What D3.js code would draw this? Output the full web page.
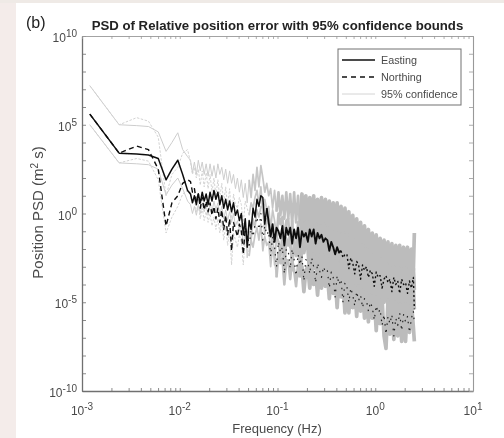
<!DOCTYPE html>
<html>
<head>
<meta charset="utf-8">
<script src="https://cdn.jsdelivr.net/npm/d3@7"></script>
<style>
  html, body { margin: 0; padding: 0; background: #fff; }
  svg { display: block; }
  text { font-family: "Liberation Sans", Arial, sans-serif; }
</style>
</head>
<body>
<div id="chart"></div>
<script>
// everything below is log10 of the value
const freqExp = [
  -2.92,-2.62,-2.44,-2.32,-2.22,-2.14,-2.08,-2.02,-1.97,-1.92,
  -1.89,-1.87,-1.85,-1.83,-1.81,-1.79,-1.77,-1.75,-1.73,-1.71,
  -1.69,-1.67,-1.65,-1.63,-1.61,-1.59,-1.57,-1.55,-1.53,-1.51,
  -1.49,-1.47,-1.45,-1.43,-1.41,-1.39,-1.37,-1.35,-1.33,-1.31,
  -1.29,-1.27,-1.25,-1.23,-1.21,-1.19,-1.17,-1.15,-1.13,-1.11,
  -1.09,-1.07,-1.05,-1.03,-1.01,-0.99,-0.97,-0.95,-0.93,-0.91,
  -0.89,-0.87,-0.85,-0.83,-0.81,-0.79,-0.77,-0.75,-0.73,-0.71,
  -0.69,-0.67,-0.65,-0.63,-0.61,-0.59,-0.57,-0.55,-0.53,-0.51,
  -0.49,-0.47,-0.45,-0.43,-0.41,-0.39,-0.37,-0.35,-0.33,-0.31,
  -0.29,-0.27,-0.25,-0.23,-0.21,-0.19,-0.17,-0.15,-0.13,-0.11,
  -0.09,-0.07,-0.05,-0.03,-0.01,0.01,0.03,0.05,0.07,0.09,
  0.11,0.13,0.15,0.17,0.19,0.21,0.23,0.25,0.27,0.29,
  0.31,0.33,0.35,0.37,0.39,0.40
];

const easting = [
  5.6,3.4,3.35,3.3,3.1,1.9,2.5,3.0,2.2,1.3,
  1.1,0.6,1.0,0.5,1.1,0.6,1.2,0.7,1.1,0.5,
  1.2,0.7,1.3,0.8,1.2,0.5,1.0,0.3,0.8,0.2,
  0.7,0.1,0.6,-0.1,0.2,-0.4,0.0,-1.2,-0.3,-1.9,
  -0.4,-0.9,0.3,-0.2,0.8,0.4,1.0,0.9,-0.6,0.3,
  -0.5,-1.3,-0.6,-1.6,-0.8,-1.0,-1.4,-0.7,-1.8,-0.8,
  -1.2,-0.8,-1.7,-0.9,-1.4,-0.8,-1.9,-1.0,-1.3,-1.1,
  -1.6,-0.9,-1.3,-0.9,-1.7,-1.1,-1.4,-1.2,-1.6,-1.4,
  -1.5,-2.1,-1.6,-1.9,-2.3,-1.9,-2.2,-2.1,-2.5,-2.3,
  -2.3,-3.1,-2.5,-2.8,-3.4,-2.7,-2.9,-3.7,-2.9,-3.2,
  -3.0,-3.6,-3.2,-3.4,-4.1,-3.3,-3.6,-3.5,-4.2,-3.7,
  -3.5,-3.9,-3.7,-4.4,-3.6,-4.0,-3.8,-4.5,-3.7,-4.0,
  -3.9,-4.5,-3.8,-4.2,-3.6,-5.4
];

const northing = [
  5.6,3.4,3.8,3.6,2.5,-0.7,0.6,1.0,1.7,1.9,
  1.8,1.2,1.4,0.7,1.1,0.3,0.9,0.2,0.7,0.1,
  0.6,-0.1,0.4,-0.3,0.3,-0.5,0.2,-0.9,-0.1,-1.2,
  -0.3,-2.1,-0.5,-0.9,-1.3,-0.6,-1.0,-2.3,-0.8,-1.2,
  -1.8,-0.9,-1.3,-0.6,-0.2,-0.9,0.0,-1.5,-0.7,-1.2,
  -1.0,-2.4,-1.3,-1.9,-3.0,-1.6,-2.2,-1.9,-3.4,-2.0,
  -2.1,-3.1,-2.0,-2.6,-3.5,-2.3,-2.9,-2.4,-3.8,-2.6,
  -2.7,-3.4,-2.5,-3.0,-3.9,-2.8,-3.2,-3.6,-3.0,-3.3,
  -3.2,-4.2,-3.3,-3.6,-4.7,-3.5,-4.0,-3.7,-5.0,-3.9,
  -4.1,-5.0,-4.2,-4.6,-5.2,-4.4,-4.9,-4.6,-5.3,-4.8,
  -4.9,-5.5,-5.0,-5.3,-6.0,-5.2,-5.6,-5.4,-6.3,-5.7,
  -6.8,-5.8,-6.2,-5.7,-6.9,-5.9,-6.3,-5.6,-6.6,-5.7,
  -6.1,-5.8,-6.7,-5.9,-5.5,-6.2
];

const eastingUpper = [
  7.2,5.0,4.95,4.9,4.6,3.5,4.0,4.55,3.6,3.2,
  3.0,2.3,2.9,2.2,3.0,2.4,2.9,2.2,2.8,2.1,
  2.8,2.1,2.7,2.0,2.8,2.2,2.6,1.9,2.5,1.7,
  2.4,1.7,2.2,1.4,2.0,1.2,1.9,0.9,1.7,0.6,
  1.9,0.9,2.2,1.3,2.6,1.5,2.7,2.0,1.2,1.7,
  1.0,1.4,0.3,1.3,0.1,1.2,-0.1,1.0,-0.3,1.2,
  -0.3,1.1,-0.6,1.2,-0.5,1.0,-0.7,1.1,-0.6,1.0,
  -0.9,0.9,-0.8,1.0,-1.0,0.8,-0.9,0.9,-1.0,0.8,
  -1.0,0.7,-1.1,0.6,-1.2,0.6,-1.3,0.4,-1.4,0.3,
  -1.4,0.1,-1.6,-0.1,-1.7,-0.3,-1.9,-0.5,-2.0,-0.7,
  -2.2,-0.9,-2.3,-1.1,-2.5,-1.2,-2.6,-1.4,-2.8,-1.5,
  -3.0,-1.6,-3.1,-1.7,-3.2,-1.8,-3.2,-1.8,-3.3,-1.9,
  -3.3,-1.9,-3.4,-2.0,-3.2,-1.1
];

const northingUpper = [
  7.2,5.0,5.4,5.2,4.3,1.0,2.2,2.6,3.4,3.6,
  2.9,2.2,2.6,2.0,2.5,1.6,2.4,1.5,2.3,1.4,
  2.2,1.2,2.0,1.0,1.9,0.9,1.7,0.6,1.5,0.4,
  1.4,-0.4,1.1,0.5,0.3,0.9,0.5,-0.6,0.7,0.3,
  -0.1,0.6,0.3,0.9,1.3,0.5,1.5,0.0,0.8,0.2,
  0.4,-0.9,0.2,-0.4,-1.4,0.0,-0.6,-0.2,-1.8,-0.4,
  -0.3,-1.9,-0.4,-1.8,-2.0,-0.5,-1.9,-0.4,-2.2,-0.5,
  -0.5,-2.2,-0.6,-2.1,-0.6,-2.4,-0.7,-2.2,-0.6,-2.3,
  -0.8,-2.4,-0.9,-2.5,-1.0,-2.6,-1.1,-2.7,-1.1,-2.8,
  -1.2,-2.9,-1.4,-3.0,-1.5,-3.1,-1.7,-3.2,-1.8,-3.3,
  -2.0,-3.4,-2.1,-3.5,-2.3,-3.6,-2.4,-3.7,-2.6,-3.8,
  -2.8,-4.0,-2.9,-4.1,-3.0,-4.2,-3.0,-4.2,-3.1,-4.3,
  -3.1,-4.3,-3.2,-4.4,-3.1,-4.3
];

const eastingLower = [
  5.0,2.85,2.8,2.75,2.5,1.05,1.6,2.0,1.4,0.7,
  0.5,0.0,0.4,-0.1,0.5,0.0,0.6,0.1,0.5,-0.1,
  0.6,0.1,0.7,0.2,0.6,-0.1,0.4,-0.3,0.2,-0.4,
  0.1,-0.5,0.0,-0.7,-0.4,-1.0,-0.6,-1.8,-0.9,-2.5,
  -1.0,-1.5,-0.3,-0.8,0.2,-0.2,0.4,0.3,-1.2,-0.3,
  -0.7,-2.2,-1.0,-2.9,-1.3,-1.6,-2.4,-1.2,-3.2,-1.4,
  -1.8,-1.3,-3.2,-1.5,-2.4,-1.4,-3.6,-1.6,-2.1,-1.7,
  -1.9,-3.4,-1.8,-3.1,-2.0,-3.6,-1.9,-3.2,-2.0,-3.4,
  -2.2,-3.7,-2.3,-3.8,-2.4,-3.8,-2.5,-3.9,-2.6,-4.0,
  -2.6,-4.1,-2.7,-4.2,-2.8,-4.3,-2.9,-4.4,-3.0,-4.5,
  -3.2,-4.6,-3.3,-4.7,-3.4,-4.8,-3.5,-4.9,-3.6,-5.0,
  -3.8,-5.1,-3.9,-5.2,-4.0,-5.3,-4.0,-5.3,-4.1,-5.3,
  -4.1,-5.3,-4.1,-5.4,-4.2,-5.4
];

const northingLower = [
  5.0,2.85,3.1,2.95,1.9,-1.1,-0.2,0.4,1.1,1.3,
  1.2,0.6,0.8,0.1,0.5,-0.3,0.3,-0.4,0.1,-0.5,
  0.0,-0.7,-0.2,-0.9,-0.3,-1.1,-0.4,-1.5,-0.7,-1.8,
  -0.9,-2.9,-1.1,-1.5,-1.9,-1.2,-1.6,-2.9,-1.4,-1.8,
  -2.4,-1.5,-1.9,-1.2,-0.8,-1.5,-0.6,-2.1,-1.3,-1.8,
  -1.6,-3.0,-1.9,-2.5,-3.6,-2.2,-2.8,-2.5,-4.0,-2.6,
  -2.7,-3.7,-2.6,-3.2,-4.1,-2.9,-3.5,-3.0,-4.4,-3.2,
  -3.0,-4.2,-3.1,-4.0,-3.3,-4.6,-3.2,-4.2,-3.3,-4.1,
  -3.4,-4.8,-3.5,-4.5,-3.6,-5.3,-3.6,-4.7,-3.8,-5.6,
  -3.9,-5.6,-4.0,-5.3,-4.1,-5.8,-4.1,-5.5,-4.3,-5.9,
  -4.5,-6.1,-4.6,-5.9,-4.7,-6.6,-4.7,-6.2,-4.8,-6.9,
  -7.6,-4.9,-6.8,-5.0,-7.1,-5.0,-6.9,-5.1,-7.2,-5.1,
  -7.2,-5.1,-6.7,-5.0,-6.4,-7.2
];

const xTickExps = [-3, -2, -1, 0, 1];
const yTickExps = [-10, -5, 0, 5, 10];
const yMinorExps = [-9,-8,-7,-6,-4,-3,-2,-1,1,2,3,4,6,7,8,9];
const legendLabels = ['Easting', 'Northing', '95% confidence'];

const width = 504, height = 438;
const margin = { top: 36, right: 31, bottom: 47, left: 82 };
const graphWidth = width - margin.left - margin.right;
const graphHeight = height - margin.top - margin.bottom;
const axisColor = '#6f6f6f', textColor = '#4a4a4a';

const svg = d3.select('#chart').append('svg')
  .attr('width', width)
  .attr('height', height);

svg.append('defs').append('filter').attr('id', 'soft')
  .append('feGaussianBlur').attr('stdDeviation', 0.35);

// page background strips of the scanned figure
svg.append('rect').attr('width', 16).attr('height', height).attr('fill', '#f4ecea');
svg.append('rect').attr('width', width).attr('height', 3).attr('fill', '#efeae6');

const graph = svg.append('g')
  .attr('transform', `translate(${margin.left}, ${margin.top})`)
  .attr('filter', 'url(#soft)');

const x = d3.scaleLog().domain([1e-3, 10]).range([0, graphWidth]);
const y = d3.scaleLog().domain([1e-10, 1e10]).range([graphHeight, 0]);

// draw one stretch of a series, the noisy end needs a heavier stroke to close up
const drawSeries = (values, from, to, color, w, dash) => {
  const line = d3.line()
    .x(i => x(10 ** freqExp[i]))
    .y(i => y(10 ** values[i]));
  graph.append('path')
    .attr('d', line(d3.range(from, to)))
    .attr('fill', 'none')
    .attr('stroke', color)
    .attr('stroke-width', w)
    .attr('stroke-dasharray', dash)
    .attr('stroke-linejoin', 'round');
};

const thinEnd = 41, midEnd = 55, wideEnd = 67, lastPoint = freqExp.length;

[eastingUpper, eastingLower].forEach(values => {
  drawSeries(values, 0, thinEnd, '#cdcdcd', 1, null);
  drawSeries(values, thinEnd - 1, midEnd, '#c6c6c6', 1.7, null);
  drawSeries(values, midEnd - 1, wideEnd, '#c0c0c0', 2.6, null);
  drawSeries(values, wideEnd - 1, lastPoint, '#bcbcbc', 3.7, null);
});
[northingUpper, northingLower].forEach(values => {
  drawSeries(values, 0, thinEnd, '#d2d2d2', 1, '2.5 1.5');
  drawSeries(values, thinEnd - 1, midEnd, '#c6c6c6', 1.7, null);
  drawSeries(values, midEnd - 1, wideEnd, '#c0c0c0', 2.6, null);
  drawSeries(values, wideEnd - 1, lastPoint, '#bcbcbc', 3.7, null);
});

// black lines sit over the grey but break up into speckle at the high end
const northingSplit = 41, eastingThick = 50, eastingSplit = 88;
drawSeries(northing, 0, northingSplit, '#111', 1.4, '5 3.5');
drawSeries(northing, northingSplit - 1, lastPoint, '#222', 1.2, '1.5 5');
drawSeries(easting, 0, eastingThick, '#111', 1.5, null);
drawSeries(easting, eastingThick - 1, eastingSplit, '#111', 1.9, null);
drawSeries(easting, eastingSplit - 1, lastPoint, '#111', 1.4, '2 2.5');

// axes: ticks point inward on all four sides
const xMinor = x.ticks();
const xBottom = d3.axisBottom(x).tickValues(xMinor).tickFormat('')
  .tickSizeOuter(0).tickSizeInner(-3);
const xTop = d3.axisTop(x).tickValues(xMinor).tickFormat('')
  .tickSizeOuter(0).tickSizeInner(-3);
const yValues = yTickExps.concat(yMinorExps).map(d => 10 ** d);
const yLeft = d3.axisLeft(y).tickValues(yValues).tickFormat('')
  .tickSizeOuter(0).tickSizeInner(-4);
const yRight = d3.axisRight(y).tickValues(yValues).tickFormat('')
  .tickSizeOuter(0).tickSizeInner(-4);

const styleAxis = (g, color, w) => {
  g.selectAll('path').attr('stroke', color).attr('stroke-width', w);
  g.selectAll('line').attr('stroke', color).attr('stroke-width', 0.8);
};

styleAxis(graph.append('g').attr('transform', `translate(0, ${graphHeight})`).call(xBottom), axisColor, 1.3);
styleAxis(graph.append('g').call(yLeft), axisColor, 1.3);
styleAxis(graph.append('g').call(xTop), '#999', 0.9);
styleAxis(graph.append('g').attr('transform', `translate(${graphWidth}, 0)`).call(yRight), '#999', 1.1);

// 10^n labels
const powerLabel = (sel, exp) => {
  sel.attr('fill', textColor).attr('font-size', 12);
  sel.append('tspan').text('10');
  sel.append('tspan').attr('dy', -5).attr('font-size', 10).text(exp);
};

xTickExps.forEach(exp => {
  graph.append('text')
    .attr('x', x(10 ** exp))
    .attr('y', graphHeight + 24)
    .attr('text-anchor', 'middle')
    .call(powerLabel, exp);
});

yTickExps.forEach(exp => {
  graph.append('text')
    .attr('x', -5)
    .attr('y', y(10 ** exp) + 6)
    .attr('text-anchor', 'end')
    .call(powerLabel, exp);
});

// titles
graph.append('text')
  .attr('x', 195.5).attr('y', -6)
  .attr('text-anchor', 'middle')
  .attr('font-size', 13.2).attr('font-weight', 'bold').attr('fill', '#222')
  .text('PSD of Relative position error with 95% confidence bounds');

graph.append('text')
  .attr('x', 195).attr('y', graphHeight + 42)
  .attr('text-anchor', 'middle')
  .attr('font-size', 13).attr('fill', textColor)
  .text('Frequency (Hz)');

const yLabel = graph.append('text')
  .attr('transform', `translate(-39, ${graphHeight / 2 - 1}) rotate(-90)`)
  .attr('text-anchor', 'middle')
  .attr('font-size', 15).attr('fill', textColor);
yLabel.append('tspan').text('Position PSD (m');
yLabel.append('tspan').attr('dy', -5).attr('font-size', 10).text('2');
yLabel.append('tspan').attr('dy', 5).text(' s)');

graph.append('text')
  .attr('x', -56).attr('y', -8)
  .attr('font-size', 16).attr('fill', '#222')
  .text('(b)');

// legend
const legend = graph.append('g').attr('transform', 'translate(256, 13)');
legend.append('rect')
  .attr('width', 123).attr('height', 56)
  .attr('fill', '#fff').attr('stroke', '#707070').attr('stroke-width', 1);

const legendStyles = [
  { color: '#111', w: 1.5, dash: null },
  { color: '#111', w: 1.5, dash: '5 4' },
  { color: '#d4d4d4', w: 1, dash: null }
];

legendLabels.forEach((label, i) => {
  const rowY = 11 + i * 17;
  legend.append('line')
    .attr('x1', 4).attr('x2', 37)
    .attr('y1', rowY).attr('y2', rowY)
    .attr('stroke', legendStyles[i].color)
    .attr('stroke-width', legendStyles[i].w)
    .attr('stroke-dasharray', legendStyles[i].dash);
  legend.append('text')
    .attr('x', 43).attr('y', rowY + 4)
    .attr('font-size', 10.8).attr('fill', textColor)
    .text(label);
});
</script>
</body>
</html>
